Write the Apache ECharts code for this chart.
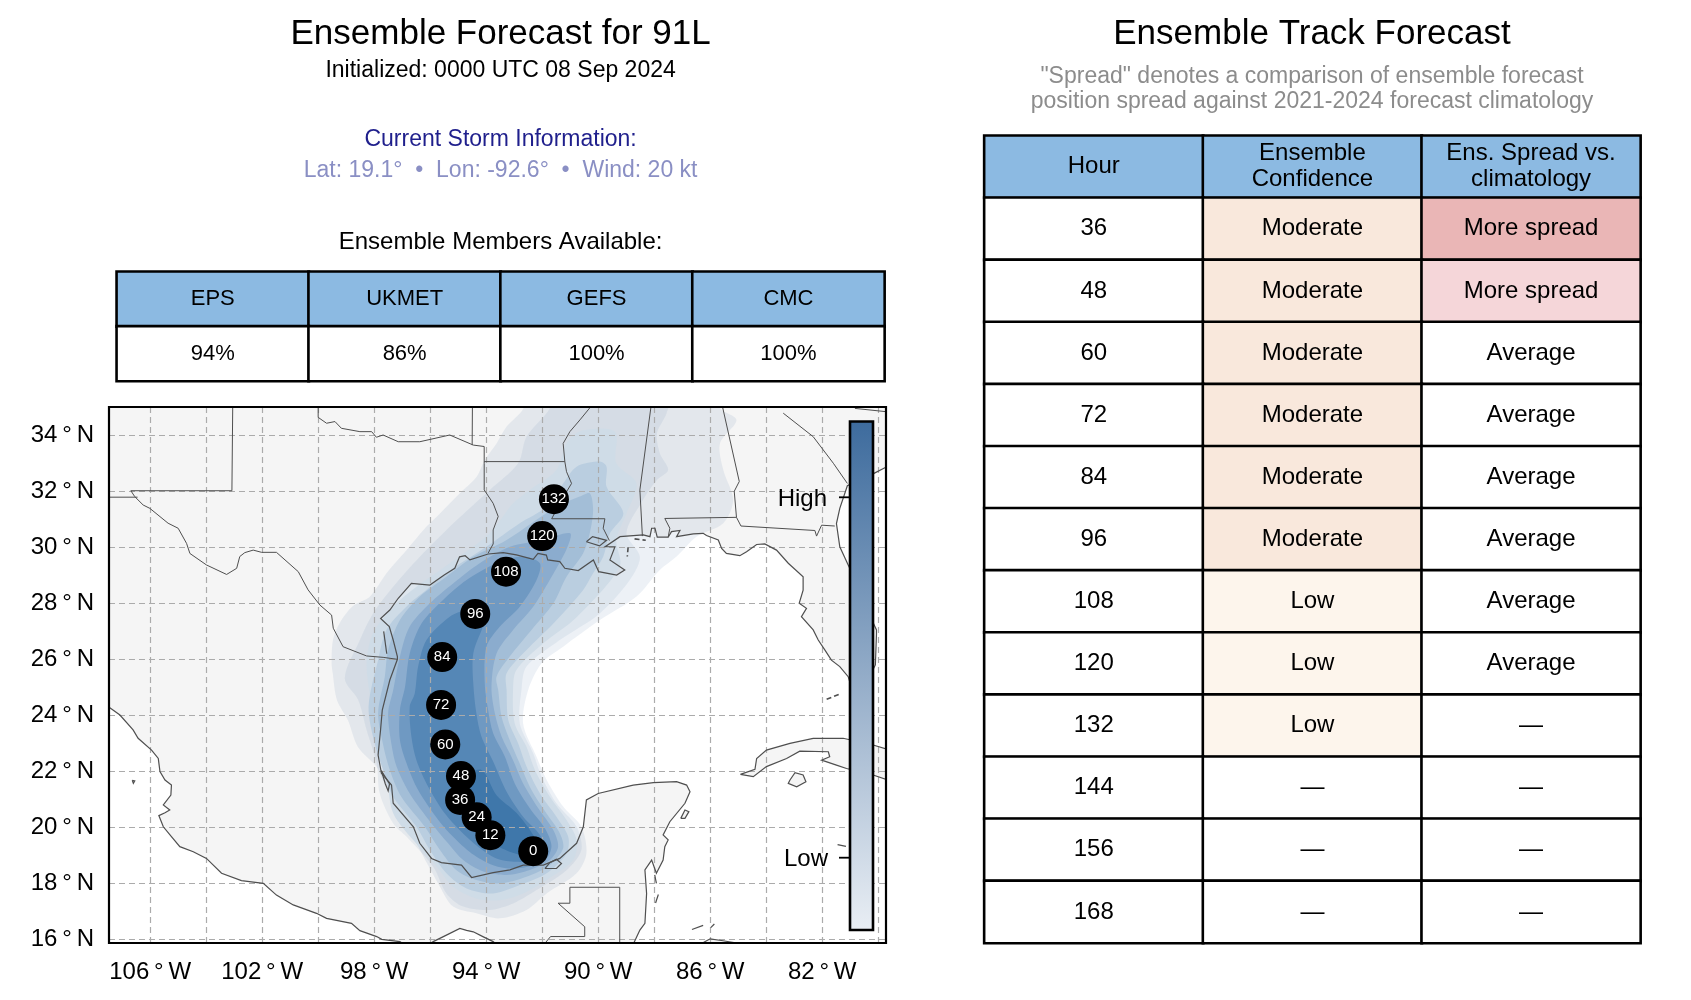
<!DOCTYPE html>
<html>
<head>
<meta charset="utf-8">
<title>Ensemble Forecast for 91L</title>
<style>
html, body { margin: 0; padding: 0; background: #fff; }
#container { width: 1691px; height: 1000px; }
</style>
<script src="https://cdn.jsdelivr.net/npm/echarts@6/dist/echarts.min.js"></script>
</head>
<body>
<div id="container"></div>
<script>
var FONT = '"Liberation Sans", sans-serif';

// tables
var memberModels = ['EPS', 'UKMET', 'GEFS', 'CMC'];
var memberPct = ['94%', '86%', '100%', '100%'];
var trackHeaders = ['Hour', 'Ensemble\nConfidence', 'Ens. Spread vs.\nclimatology'];
var trackHours = ['36', '48', '60', '72', '84', '96', '108', '120', '132', '144', '156', '168'];
var trackConfidence = ['Moderate', 'Moderate', 'Moderate', 'Moderate', 'Moderate', 'Moderate', 'Low', 'Low', 'Low', '—', '—', '—'];
var trackSpread = ['More spread', 'More spread', 'Average', 'Average', 'Average', 'Average', 'Average', 'Average', '—', '—', '—', '—'];
var spreadColors = ['#eab6b6', '#f5d6d9', '#fff', '#fff', '#fff', '#fff', '#fff', '#fff', '#fff', '#fff', '#fff', '#fff'];

// map axes
var lonTicks = [-106, -104, -102, -100, -98, -96, -94, -92, -90, -88, -86, -84, -82, -80];
var lonLabels = [-106, -102, -98, -94, -90, -86, -82];
var latTicks = [16, 18, 20, 22, 24, 26, 28, 30, 32, 34];

// forecast hour positions [lon, lat, hour]
var trackPoints = [
    [-92.32, 19.15, 0], [-93.85, 19.72, 12], [-94.34, 20.36, 24], [-94.93, 20.98, 36],
    [-94.9, 21.83, 48], [-95.46, 22.96, 60], [-95.61, 24.37, 72], [-95.57, 26.08, 84],
    [-94.39, 27.62, 96], [-93.29, 29.13, 108], [-92.0, 30.4, 120], [-91.58, 31.72, 132]
];

// coastlines
var pacificCoast = [
    [-107.6, 24.37], [-107.44, 24.27], [-107.08, 24.01], [-106.61, 23.48], [-106.43, 23.18], [-105.95, 22.76], [-105.71, 22.46],
    [-105.65, 21.99], [-105.47, 21.69], [-105.24, 21.51], [-105.26, 21.15], [-105.53, 20.8], [-105.3, 20.62], [-105.47, 20.52],
    [-105.69, 20.42], [-105.53, 20.02], [-105.24, 19.67], [-104.94, 19.31], [-104.46, 19.13], [-103.99, 18.89], [-103.45, 18.36],
    [-102.74, 18.1], [-101.96, 18.0], [-101.49, 17.58], [-100.89, 17.23], [-100.06, 16.93], [-99.7, 16.75], [-98.81, 16.57],
    [-98.51, 16.31], [-97.91, 16.1], [-97.73, 16.0], [-97.08, 15.92], [-96.5, 15.5], [-95.89, 15.92], [-95.42, 16.15],
    [-94.94, 16.39], [-94.7, 16.32], [-94.46, 16.27], [-94.1, 16.09], [-93.75, 15.92], [-93.3, 15.5]
];
var gulfCoast = [
    [-88.9, 15.5], [-88.51, 16.33], [-88.33, 16.57], [-88.27, 17.64], [-88.33, 18.48], [-88.09, 18.83], [-87.92, 18.36], [-87.68, 18.83],
    [-87.62, 19.31], [-87.5, 19.55], [-87.68, 19.73], [-87.44, 20.2], [-86.9, 20.86], [-86.72, 21.27], [-86.84, 21.51],
    [-87.2, 21.63], [-88.03, 21.6], [-88.75, 21.51], [-90.0, 21.21], [-90.42, 20.98], [-90.53, 20.02], [-90.77, 19.43],
    [-91.37, 18.89], [-91.96, 18.65], [-92.68, 18.65], [-93.15, 18.48], [-93.75, 18.38], [-94.52, 18.21], [-94.88, 18.65],
    [-95.6, 18.74], [-95.95, 18.89], [-96.37, 19.43], [-96.6, 20.02], [-97.32, 20.86], [-97.38, 21.51], [-97.74, 21.93],
    [-97.86, 22.58], [-97.77, 23.5], [-97.71, 24.19], [-97.44, 25.26], [-97.17, 26.0], [-97.17, 26.1], [-97.32, 26.69],
    [-97.46, 27.17], [-97.77, 27.46], [-97.44, 27.76], [-97.14, 28.18], [-96.67, 28.71], [-96.01, 28.65], [-95.5, 29.01],
    [-95.12, 29.25], [-94.95, 29.66], [-94.75, 29.7], [-94.58, 29.55], [-93.93, 29.76], [-93.39, 29.81], [-92.92, 29.73],
    [-92.32, 29.57], [-92.15, 29.78], [-91.85, 29.72], [-91.8, 29.55], [-91.37, 29.49], [-91.19, 29.25], [-90.71, 29.17],
    [-90.17, 29.55], [-89.98, 29.13], [-89.34, 29.01], [-89.05, 29.19], [-89.58, 29.55], [-89.4, 30.02], [-89.75, 30.02],
    [-89.22, 30.38], [-88.39, 30.44], [-88.15, 30.38], [-88.09, 30.68], [-87.97, 30.68], [-87.89, 30.36], [-87.62, 30.36],
    [-87.5, 30.36], [-87.38, 30.56], [-87.08, 30.6], [-87.2, 30.38], [-86.6, 30.48], [-86.25, 30.5], [-86.13, 30.42],
    [-85.71, 30.26], [-85.59, 29.96], [-85.42, 29.78], [-84.94, 29.7], [-84.7, 29.84], [-84.34, 30.1], [-84.05, 30.12],
    [-83.63, 29.9], [-83.21, 29.43], [-82.68, 28.95], [-82.68, 28.47], [-82.82, 28.0], [-82.56, 27.82], [-82.74, 27.52],
    [-82.32, 27.05], [-82.14, 26.69], [-81.9, 26.33], [-81.67, 25.97], [-81.37, 25.74], [-81.07, 25.38], [-81.0, 25.15],
    [-80.4, 25.2], [-80.1, 25.8], [-80.06, 26.9], [-80.06, 27.05], [-80.5, 28.0], [-80.6, 28.4], [-81.07, 29.37], [-81.37, 30.02],
    [-81.49, 30.85], [-81.37, 31.39], [-81.1, 32.2], [-80.15, 32.64], [-79.76, 32.84], [-79.5, 32.95]
];
var landCorners = [[-79.5, 35.4], [-108, 35.4], [-108, 24.37]];

var cubaIsland = [
    [-84.92, 21.89], [-84.4, 22.07], [-84.34, 22.46], [-83.99, 22.76], [-83.15, 23.0], [-82.32, 23.18], [-81.25, 23.18], [-80.18, 22.94],
    [-79.4, 22.7], [-79.4, 21.6], [-80.18, 21.87], [-81.13, 22.1], [-81.49, 22.22], [-82.02, 22.4], [-81.73, 22.52], [-81.78, 22.7],
    [-82.8, 22.72], [-83.27, 22.46], [-83.99, 22.17], [-84.46, 21.81], [-84.92, 21.89]
];
var isleOfYouth = [[-83.15, 21.69], [-82.97, 21.95], [-82.68, 21.87], [-82.58, 21.63], [-82.91, 21.45], [-83.21, 21.57], [-83.15, 21.69]];
var cozumelIsland = [[-87.05, 20.32], [-86.9, 20.62], [-86.76, 20.56], [-86.9, 20.32], [-87.05, 20.32]];
var hondurasCoast = [[-86.4, 15.8], [-86.0, 16.02], [-85.6, 15.96], [-85.1, 15.88], [-85.0, 15.8]];
var smallIslands = [
    [[-106.64, 21.68], [-106.55, 21.66], [-106.6, 21.57], [-106.64, 21.68]],
    [[-87.95, 17.3], [-87.85, 17.6]],
    [[-86.65, 16.35], [-86.25, 16.5]],
    [[-85.98, 16.42], [-85.85, 16.55]],
    [[-81.45, 19.38], [-81.15, 19.32]],
    [[-87.92, 18.0], [-87.98, 18.3]],
    [[-91.9, 18.53], [-91.49, 18.53], [-91.31, 18.71], [-91.49, 18.86], [-91.73, 18.74], [-91.9, 18.53]],
    [[-90.42, 30.2], [-90.2, 30.38], [-89.7, 30.25], [-89.95, 30.05], [-90.42, 30.2]],
    [[-97.66, 27.0], [-97.55, 26.2]],
    [[-97.74, 22.02], [-97.45, 21.55], [-97.5, 21.3], [-97.6, 21.55], [-97.74, 22.02]]
];
var dashedIslands = [
    [[-88.7, 30.3], [-88.3, 30.25]],
    [[-88.93, 30.0], [-88.96, 29.67]],
    [[-81.84, 24.57], [-81.37, 24.76]]
];

// state and national borders
var borderLines = [
    [[-106.69, 32.02], [-106.55, 31.81], [-106.25, 31.51], [-106.01, 31.39], [-105.36, 30.86], [-105.0, 30.68], [-104.7, 30.14],
        [-104.58, 29.78], [-103.99, 29.37], [-103.27, 29.03], [-102.91, 29.25], [-102.8, 29.67], [-102.62, 29.81], [-102.32, 29.9],
        [-102.02, 29.82], [-101.49, 29.82], [-100.71, 29.13], [-100.36, 28.48], [-99.94, 27.94], [-99.52, 27.58], [-99.46, 27.11],
        [-99.11, 26.45], [-98.27, 26.12], [-97.68, 26.07], [-97.17, 26.0]],
    [[-107.6, 31.79], [-106.45, 31.79]],
    [[-106.69, 32.02], [-103.08, 32.02], [-103.05, 35.2]],
    [[-100.0, 35.2], [-100.0, 34.64], [-99.7, 34.43], [-99.4, 34.49], [-99.17, 34.25], [-98.51, 34.13], [-98.09, 34.13], [-97.92, 33.93],
        [-97.68, 34.01], [-97.14, 33.77], [-96.37, 33.77], [-95.3, 34.01], [-94.46, 33.65], [-94.07, 33.6]],
    [[-94.49, 35.2], [-94.5, 33.65]],
    [[-94.07, 33.6], [-94.07, 33.0], [-94.07, 32.05], [-93.75, 31.57], [-93.57, 31.1], [-93.75, 30.62], [-93.75, 30.12], [-93.93, 29.79]],
    [[-94.07, 33.06], [-91.19, 33.06]],
    [[-90.2, 35.1], [-90.65, 34.55], [-91.01, 34.13], [-91.25, 33.71], [-91.19, 33.06], [-91.13, 32.7], [-90.95, 32.28], [-91.3, 31.7], [-91.66, 31.02]],
    [[-91.66, 31.02], [-89.76, 31.02], [-89.82, 30.68], [-89.6, 30.24]],
    [[-88.09, 35.2], [-88.51, 32.05], [-88.42, 30.4]],
    [[-85.6, 35.2], [-84.96, 32.35], [-85.14, 32.0], [-85.06, 31.07], [-84.9, 30.76]],
    [[-87.62, 31.03], [-85.06, 31.07]],
    [[-87.62, 31.03], [-87.44, 30.68], [-87.5, 30.36]],
    [[-84.9, 30.76], [-82.26, 30.6], [-82.2, 30.4], [-82.02, 30.79], [-81.55, 30.76]],
    [[-83.39, 34.79], [-82.32, 33.95], [-81.6, 33.0], [-81.1, 32.28]],
    [[-80.83, 34.96], [-79.5, 34.82]],
    [[-91.95, 15.8], [-91.7, 16.1], [-90.48, 16.1], [-90.48, 16.45], [-91.43, 17.29], [-91.01, 17.29], [-91.01, 17.86], [-89.23, 17.86], [-89.23, 15.8]]
];

// forecast density bands, outermost first, hand
var bandOne = [
    [-92.8, 35.3], [-92.67, 34.96], [-93.27, 34.31], [-93.63, 33.71], [-94.05, 33.12], [-94.34, 32.52], [-94.94, 31.93], [-95.65, 31.21],
    [-96.13, 30.74], [-96.84, 29.9], [-97.56, 29.07], [-98.15, 28.24], [-98.76, 27.9], [-99.23, 27.3], [-99.47, 26.7], [-99.52, 25.85],
    [-99.48, 25.5], [-99.33, 24.55], [-98.94, 23.83], [-98.58, 22.87], [-97.9, 22.15], [-97.69, 21.69], [-97.08, 20.62], [-96.49, 19.43],
    [-95.65, 17.88], [-95.18, 17.17], [-94.35, 16.93], [-93.51, 16.75], [-92.56, 17.05], [-91.84, 17.64], [-90.77, 18.36], [-90.42, 19.07],
    [-90.6, 20.02], [-91.25, 20.74], [-91.84, 21.69], [-92.2, 22.52], [-92.68, 23.71], [-92.5, 24.9], [-92.02, 25.86], [-91.25, 26.45],
    [-89.94, 27.4], [-88.63, 28.24], [-87.8, 29.19], [-87.2, 29.67], [-86.49, 30.38], [-85.53, 30.86], [-85.18, 31.69], [-85.53, 32.76],
    [-85.65, 33.71], [-85.06, 34.55], [-85.65, 34.96], [-85.6, 35.3]
];
var bandTwo = [
    [-91.8, 35.3], [-91.73, 34.96], [-92.56, 33.95], [-92.86, 33.0], [-93.87, 32.05], [-95.18, 30.85], [-96.37, 29.66], [-97.32, 28.59],
    [-98.04, 27.64], [-98.51, 26.69], [-99.05, 25.32], [-98.57, 24.55], [-98.27, 23.48], [-97.91, 22.28], [-97.8, 21.2], [-97.32, 20.14],
    [-96.84, 19.66], [-95.89, 18.59], [-95.42, 17.64], [-94.82, 17.17], [-93.87, 17.05], [-93.04, 17.28], [-92.2, 17.76], [-91.13, 18.47],
    [-90.6, 19.19], [-90.77, 20.02], [-91.49, 20.86], [-92.02, 21.81], [-92.32, 22.64], [-92.8, 23.71], [-92.74, 24.9], [-92.56, 25.74],
    [-91.37, 26.69], [-89.94, 27.64], [-88.87, 28.83], [-88.51, 29.66], [-88.99, 30.5], [-88.4, 31.69], [-87.9, 32.4], [-87.5, 32.76],
    [-87.8, 33.36], [-87.9, 34.07], [-87.56, 34.78], [-87.5, 35.3]
];
var bandThree = [
    [-90.6, 34.16], [-91.13, 33.71], [-91.49, 32.76], [-92.44, 32.05], [-93.04, 31.57], [-93.87, 30.5], [-95.3, 29.43], [-96.49, 28.59],
    [-97.32, 27.88], [-98.04, 26.93], [-98.27, 25.86], [-98.1, 24.43], [-97.8, 23.0], [-97.56, 21.93], [-97.32, 20.5], [-96.49, 19.41],
    [-95.77, 18.6], [-95.18, 17.88], [-94.35, 17.46], [-93.51, 17.4], [-92.68, 17.64], [-91.84, 18.12], [-90.89, 18.83], [-90.77, 19.55],
    [-91.13, 20.26], [-91.73, 21.1], [-92.26, 22.05], [-92.56, 22.88], [-92.98, 23.71], [-93.04, 24.9], [-92.92, 25.62], [-91.96, 26.57],
    [-90.77, 27.5], [-89.23, 29.31], [-89.35, 30.26], [-88.99, 31.21], [-88.63, 32.28], [-89.35, 33.0], [-89.4, 34.13]
];
var bandFour = [
    [-89.94, 33.06], [-90.77, 32.88], [-91.25, 32.28], [-91.85, 31.45], [-92.8, 30.86], [-93.99, 30.02], [-95.18, 29.25], [-96.13, 28.48],
    [-96.85, 27.88], [-97.56, 27.05], [-97.86, 25.97], [-98.2, 24.3], [-97.98, 22.99], [-97.68, 22.05], [-97.32, 21.09], [-96.49, 20.02],
    [-96.01, 19.19], [-95.42, 18.36], [-94.7, 17.82], [-93.75, 17.64], [-92.8, 17.94], [-91.84, 18.36], [-91.13, 19.07], [-91.07, 19.67],
    [-91.49, 20.38], [-92.08, 21.21], [-92.56, 22.17], [-92.86, 23.0], [-93.21, 23.83], [-93.27, 24.9], [-93.27, 25.5], [-92.56, 26.33],
    [-91.6, 27.28], [-90.54, 28.47], [-90.18, 29.07], [-89.82, 29.66], [-89.58, 30.5], [-89.1, 31.21], [-89.7, 32.16], [-89.7, 32.88]
];
var bandFive = [
    [-90.66, 31.81], [-91.49, 31.45], [-93.27, 30.26], [-94.46, 29.66], [-95.42, 28.95], [-96.37, 28.24], [-97.08, 27.4], [-97.5, 26.33],
    [-97.62, 25.38], [-97.86, 24.07], [-97.68, 22.95], [-97.44, 22.05], [-97.03, 21.09], [-96.19, 20.02], [-95.65, 19.19], [-95.06, 18.47],
    [-94.35, 18.12], [-93.51, 18.0], [-92.56, 18.24], [-91.73, 18.65], [-91.25, 19.25], [-91.37, 19.79], [-91.85, 20.5], [-92.38, 21.33],
    [-92.8, 22.28], [-93.16, 23.12], [-93.45, 23.95], [-93.57, 24.9], [-93.63, 25.38], [-93.16, 26.1], [-92.38, 27.05], [-91.6, 28.0],
    [-91.13, 28.95], [-90.54, 29.78], [-90.3, 30.5], [-90.18, 31.33], [-90.3, 31.93]
];
var bandSix = [
    [-91.0, 30.5], [-91.97, 30.26], [-93.15, 30.02], [-94.23, 29.43], [-95.18, 28.71], [-96.01, 28.0], [-96.73, 27.17], [-97.08, 26.1],
    [-97.32, 24.9], [-97.5, 24.07], [-97.38, 22.95], [-97.2, 22.17], [-96.73, 21.21], [-95.95, 20.14], [-95.36, 19.43], [-94.82, 18.83],
    [-94.1, 18.42], [-93.27, 18.3], [-92.44, 18.48], [-91.73, 18.83], [-91.43, 19.31], [-91.6, 19.9], [-92.14, 20.68], [-92.68, 21.57],
    [-93.04, 22.4], [-93.45, 23.24], [-93.69, 24.07], [-93.81, 25.02], [-93.63, 26.21], [-93.04, 27.05], [-92.32, 27.88], [-91.73, 28.83],
    [-91.13, 29.93]
];
var bandSeven = [
    [-92.68, 29.67], [-93.63, 29.43], [-94.7, 28.83], [-95.54, 28.12], [-96.31, 27.28], [-96.73, 26.21], [-96.9, 25.0], [-97.08, 24.19],
    [-97.08, 23.12], [-96.84, 22.28], [-96.43, 21.33], [-95.71, 20.26], [-95.18, 19.66], [-94.52, 19.07], [-93.75, 18.65], [-93.04, 18.53],
    [-92.32, 18.65], [-91.8, 18.95], [-91.67, 19.37], [-91.9, 19.96], [-92.44, 20.68], [-92.98, 21.57], [-93.33, 22.52], [-93.75, 23.36],
    [-93.93, 24.19], [-94.05, 25.14], [-93.99, 26.45], [-93.51, 27.17], [-92.8, 27.88], [-92.2, 28.83], [-92.08, 29.43]
];
var bandEight = [
    [-94.7, 27.76], [-95.3, 27.52], [-96.13, 26.69], [-96.43, 25.74], [-96.55, 24.78], [-96.73, 24.31], [-96.67, 23.24], [-96.49, 22.4],
    [-96.07, 21.45], [-95.48, 20.5], [-94.94, 19.9], [-94.29, 19.31], [-93.63, 18.89], [-92.92, 18.77], [-92.32, 18.83], [-91.9, 19.19],
    [-92.08, 19.73], [-92.68, 20.38], [-93.27, 21.27], [-93.75, 22.35], [-94.17, 23.24], [-94.35, 24.07], [-94.46, 25.14], [-94.46, 26.21],
    [-94.11, 27.17], [-93.87, 27.79]
];
var bandNine = [
    [-94.94, 20.62], [-94.4, 20.02], [-93.87, 19.49], [-93.16, 19.13], [-92.5, 19.0], [-92.1, 19.25], [-92.32, 19.73], [-92.92, 20.52],
    [-93.63, 21.15], [-94.17, 22.05], [-94.88, 21.69]
];
var densityBands = [bandOne, bandTwo, bandThree, bandFour, bandFive, bandSix, bandSeven, bandEight, bandNine];
var densityColors = [
    'rgba(55,100,150,0.09)', 'rgba(55,100,150,0.08)', '#cfdce7', '#bacee0', '#a3bed7',
    '#8bacce', '#6f99c2', '#5587b6', '#3f77aa'
];

var landAreas = [pacificCoast.concat(gulfCoast, landCorners), cubaIsland, isleOfYouth, cozumelIsland, hondurasCoast.concat([[-86.4, 15.8]])];
var coastPaths = [pacificCoast, gulfCoast, cubaIsland, isleOfYouth, cozumelIsland, hondurasCoast].concat(smallIslands);

var dom = document.getElementById('container');
var myChart = echarts.init(dom);

function polygonSeries(name, areas, colors, smooth, z) {
    return {
        name: name,
        type: 'custom',
        coordinateSystem: 'cartesian2d',
        xAxisIndex: 0,
        yAxisIndex: 0,
        clip: true,
        silent: true,
        z: z,
        data: areas.map(function (a, i) { return [i]; }),
        renderItem: function (params, api) {
            var i = api.value(0);
            return {
                type: 'polygon',
                shape: { points: areas[i].map(function (p) { return api.coord(p); }), smooth: smooth },
                style: { fill: typeof colors === 'string' ? colors : colors[i], stroke: null }
            };
        }
    };
}

function pathSeries(name, paths, color, width, dash, z) {
    return {
        name: name,
        type: 'custom',
        coordinateSystem: 'cartesian2d',
        xAxisIndex: 0,
        yAxisIndex: 0,
        clip: true,
        silent: true,
        z: z,
        data: paths.map(function (a, i) { return [i]; }),
        renderItem: function (params, api) {
            return {
                type: 'polyline',
                shape: { points: paths[api.value(0)].map(function (p) { return api.coord(p); }) },
                style: { fill: null, stroke: color, lineWidth: width, lineDash: dash }
            };
        }
    };
}

function tableSeries(name, index, rows, fontSize) {
    var data = [];
    rows.forEach(function (row, r) {
        row.forEach(function (cell, c) {
            data.push({ value: [c, r, 0], cellText: cell.text, itemStyle: { color: cell.color } });
        });
    });
    return {
        name: name,
        type: 'heatmap',
        xAxisIndex: index,
        yAxisIndex: index,
        silent: true,
        z: 3,
        data: data,
        itemStyle: { borderColor: '#000', borderWidth: 2.6 },
        emphasis: { disabled: true },
        label: {
            show: true,
            color: '#000',
            fontFamily: FONT,
            fontSize: fontSize,
            lineHeight: 26,
            formatter: function (p) { return p.data.cellText; }
        }
    };
}

var memberRows = [
    memberModels.map(function (m) { return { text: m, color: '#8cbae2' }; }),
    memberPct.map(function (m) { return { text: m, color: '#fff' }; })
];
var trackRows = [trackHeaders.map(function (h) { return { text: h, color: '#8cbae2' }; })];
trackHours.forEach(function (h, i) {
    var conf = trackConfidence[i];
    trackRows.push([
        { text: h, color: '#fff' },
        { text: conf, color: conf === 'Moderate' ? '#f9e8dc' : (conf === 'Low' ? '#fdf5ec' : '#fff') },
        { text: trackSpread[i], color: spreadColors[i] }
    ]);
});

function titleText(text, x, top, size, color) {
    return {
        text: text,
        left: x,
        top: top,
        textAlign: 'center',
        padding: 0,
        textStyle: { fontFamily: FONT, fontSize: size, fontWeight: 'normal', color: color }
    };
}

var option = {
    animation: false,
    backgroundColor: '#fff',
    title: [
        titleText('Ensemble Forecast for 91L', 500.6, 17, 35, '#000'),
        titleText('Initialized: 0000 UTC 08 Sep 2024', 500.6, 59, 23, '#000'),
        titleText('Current Storm Information:', 500.6, 128, 23, '#1f1f8c'),
        titleText('Lat: 19.1°  •  Lon: -92.6°  •  Wind: 20 kt', 500.6, 159, 23, '#8a8fc4'),
        titleText('Ensemble Members Available:', 500.6, 230, 24, '#000'),
        titleText('Ensemble Track Forecast', 1312, 17, 35, '#000'),
        titleText('"Spread" denotes a comparison of ensemble forecast', 1312, 65, 23, '#8c8c8c'),
        titleText('position spread against 2021-2024 forecast climatology', 1312, 90, 23, '#8c8c8c')
    ],
    grid: [
        { left: 109, top: 407, width: 777, height: 536, containLabel: false },
        { left: 116.8, top: 271.7, width: 767.6, height: 109.3 },
        { left: 984.4, top: 135.7, width: 656, height: 807.3 }
    ],
    xAxis: [
        {
            type: 'value', gridIndex: 0, min: -107.47, max: -79.72, z: 3,
            axisLine: { show: false },
            axisTick: { show: false, customValues: lonTicks },
            splitLine: { show: true, lineStyle: { color: '#ababab', width: 1.2, type: [6, 4] } },
            axisLabel: {
                customValues: lonLabels, margin: 17, color: '#000', fontFamily: FONT, fontSize: 24,
                formatter: function (v) { return Math.abs(v) + '\u2009°\u2009W'; }
            }
        },
        { type: 'category', gridIndex: 1, data: memberModels, show: false },
        { type: 'category', gridIndex: 2, data: trackHeaders, show: false }
    ],
    yAxis: [
        {
            type: 'value', gridIndex: 0, min: 15.87, max: 35.01, z: 3,
            axisLine: { show: false },
            axisTick: { show: false, customValues: latTicks },
            splitLine: { show: true, lineStyle: { color: '#ababab', width: 1.2, type: [6, 4] } },
            axisLabel: {
                customValues: latTicks, margin: 15, color: '#000', fontFamily: FONT, fontSize: 24,
                formatter: function (v) { return v + '\u2009°\u2009N'; }
            }
        },
        { type: 'category', gridIndex: 1, inverse: true, data: ['head', 'pct'], show: false },
        { type: 'category', gridIndex: 2, inverse: true, data: ['head'].concat(trackHours), show: false }
    ],
    series: [
        polygonSeries('land', landAreas, '#f5f5f5', 0, 1),
        polygonSeries('density', densityBands, densityColors, 0.3, 2),
        pathSeries('coast', coastPaths, '#4f4f4f', 1.2, null, 4),
        pathSeries('borders', borderLines, '#4f4f4f', 1, null, 4),
        pathSeries('islands', dashedIslands, '#4f4f4f', 1.6, [5, 3], 4),
        {
            name: 'track',
            type: 'scatter',
            xAxisIndex: 0,
            yAxisIndex: 0,
            symbolSize: 30,
            z: 5,
            silent: true,
            itemStyle: { color: '#000', opacity: 1 },
            data: trackPoints,
            label: {
                show: true,
                position: 'inside',
                color: '#fff',
                fontFamily: FONT,
                fontSize: 15,
                formatter: function (p) { return String(p.value[2]); }
            }
        },
        tableSeries('members', 1, memberRows, 22),
        tableSeries('track table', 2, trackRows, 24)
    ],
    graphic: [
        {
            type: 'rect', z: 20, silent: true,
            shape: { x: 109, y: 407, width: 777, height: 536 },
            style: { fill: null, stroke: '#000', lineWidth: 2.2 }
        },
        {
            type: 'rect', z: 20, silent: true,
            shape: { x: 850, y: 421.5, width: 23, height: 508.5 },
            style: {
                stroke: '#000',
                lineWidth: 2.6,
                fill: {
                    type: 'linear', x: 0, y: 0, x2: 0, y2: 1,
                    colorStops: [
                        { offset: 0, color: '#3d6b9d' },
                        { offset: 0.5, color: '#93acc8' },
                        { offset: 1, color: '#e9eef4' }
                    ]
                }
            }
        },
        { type: 'line', z: 20, silent: true, shape: { x1: 839, y1: 497.3, x2: 850, y2: 497.3 }, style: { stroke: '#000', lineWidth: 1.8 } },
        { type: 'line', z: 20, silent: true, shape: { x1: 839, y1: 857.7, x2: 850, y2: 857.7 }, style: { stroke: '#000', lineWidth: 1.8 } },
        { type: 'text', z: 20, silent: true, x: 827, y: 499, style: { text: 'High', textAlign: 'right', textVerticalAlign: 'middle', fontFamily: FONT, fontSize: 24, fill: '#000' } },
        { type: 'text', z: 20, silent: true, x: 828, y: 859, style: { text: 'Low', textAlign: 'right', textVerticalAlign: 'middle', fontFamily: FONT, fontSize: 24, fill: '#000' } }
    ]
};

myChart.setOption(option);
</script>
</body>
</html>
